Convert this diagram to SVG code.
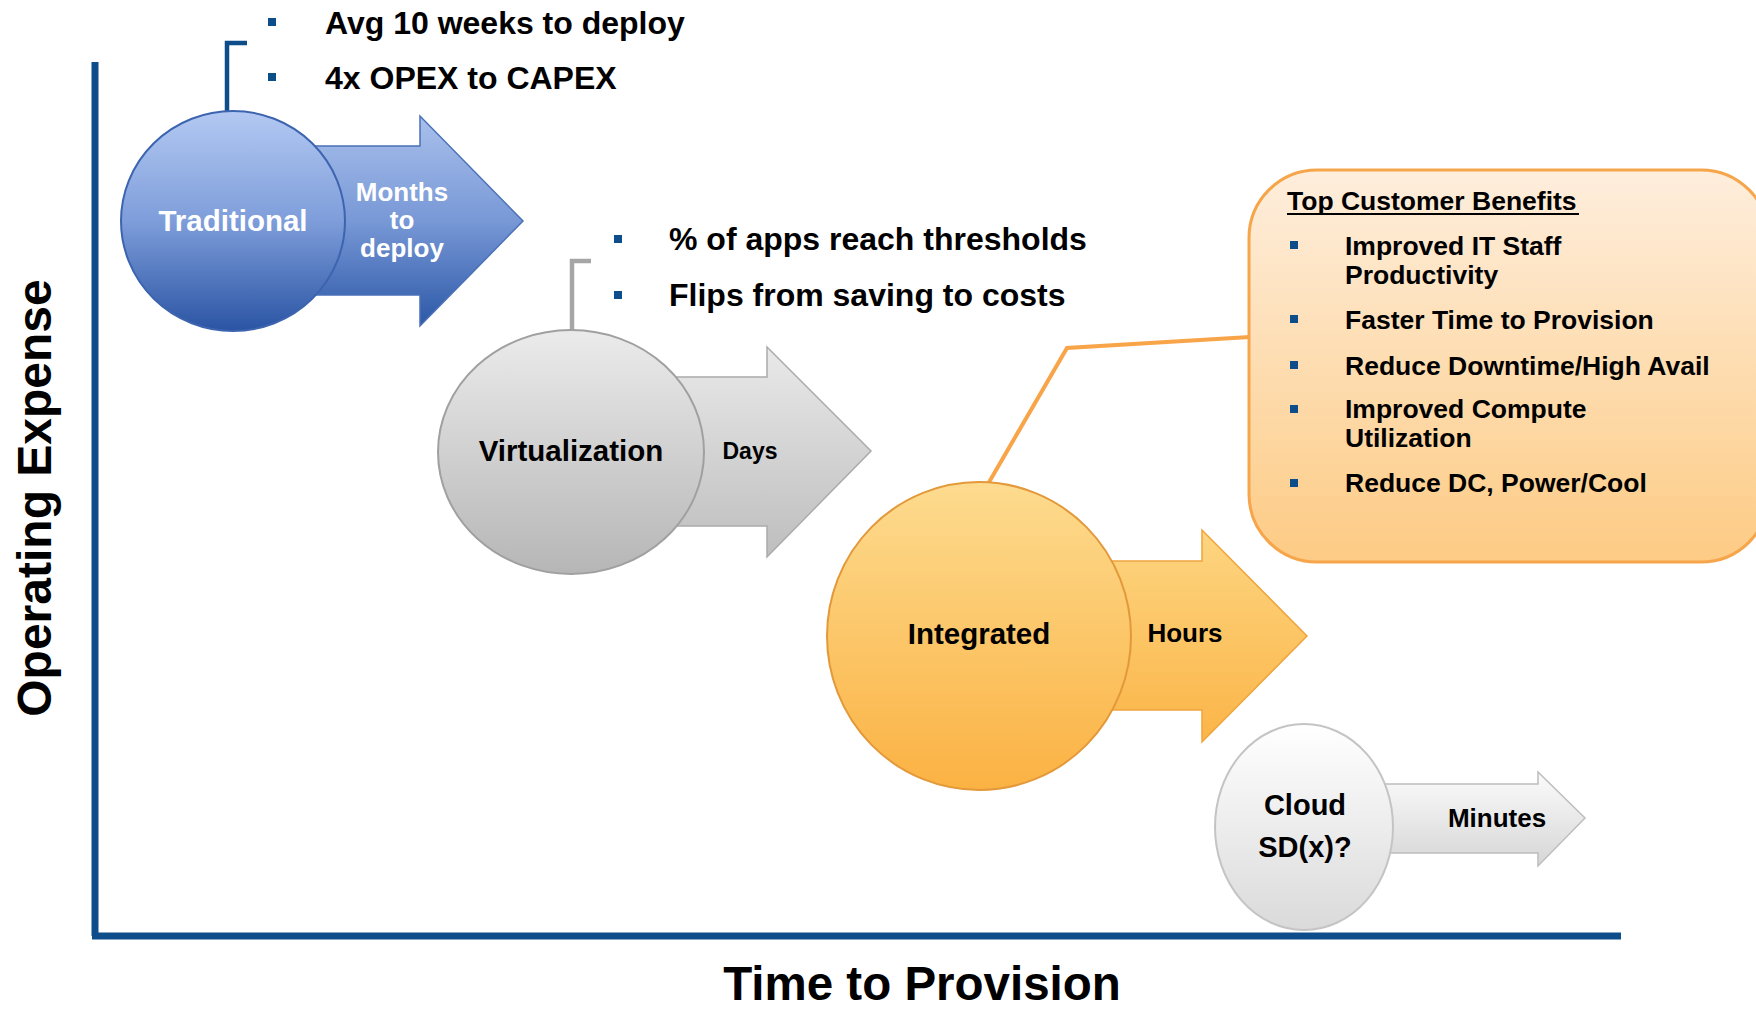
<svg xmlns="http://www.w3.org/2000/svg" width="1756" height="1010" viewBox="0 0 1756 1010">
  <style>
    text { font-family: "Liberation Sans", Arial, Helvetica, sans-serif; font-weight: bold; fill: #000; }
    .bullet-text { font-size: 32px; }
    .box-text { font-size: 26.5px; }
    .label { text-anchor: middle; }
    .light { fill: #FFFFFF; }
    .bullet { fill: #0D4E8A; }
    .axis { stroke: #0D4E8A; stroke-width: 7; fill: none; }
  </style>
  <defs>
    <linearGradient id="gBlueCircle" x1="0" y1="0" x2="0" y2="1">
      <stop offset="0" stop-color="#B3C9F2"/>
      <stop offset="0.5" stop-color="#7E9DDA"/>
      <stop offset="1" stop-color="#2A54A3"/>
    </linearGradient>
    <linearGradient id="gBlueArrow" x1="0" y1="0" x2="0" y2="1">
      <stop offset="0" stop-color="#A9C0EC"/>
      <stop offset="0.5" stop-color="#7898D6"/>
      <stop offset="1" stop-color="#2C58A7"/>
    </linearGradient>
    <linearGradient id="gGrayCircle" x1="0" y1="0" x2="0" y2="1">
      <stop offset="0" stop-color="#EBEBEB"/>
      <stop offset="1" stop-color="#B6B6B6"/>
    </linearGradient>
    <linearGradient id="gGrayArrow" x1="0" y1="0" x2="0" y2="1">
      <stop offset="0" stop-color="#E9E9E9"/>
      <stop offset="1" stop-color="#BEBEBE"/>
    </linearGradient>
    <linearGradient id="gOrangeCircle" x1="0" y1="0" x2="0" y2="1">
      <stop offset="0" stop-color="#FDDB8F"/>
      <stop offset="1" stop-color="#FBB243"/>
    </linearGradient>
    <linearGradient id="gOrangeArrow" x1="0" y1="0" x2="0" y2="1">
      <stop offset="0" stop-color="#FDD581"/>
      <stop offset="1" stop-color="#FBB548"/>
    </linearGradient>
    <linearGradient id="gWhiteCircle" x1="0" y1="0" x2="0" y2="1">
      <stop offset="0" stop-color="#FFFFFF"/>
      <stop offset="1" stop-color="#DADADA"/>
    </linearGradient>
    <linearGradient id="gWhiteArrow" x1="0" y1="0" x2="0" y2="1">
      <stop offset="0" stop-color="#FBFBFB"/>
      <stop offset="1" stop-color="#D6D6D6"/>
    </linearGradient>
    <linearGradient id="gBox" x1="0" y1="0" x2="0" y2="1">
      <stop offset="0" stop-color="#FEEEDD"/>
      <stop offset="1" stop-color="#FDCB84"/>
    </linearGradient>
  </defs>

  <!-- chart axes -->
  <g id="axes">
    <line class="axis" x1="95" y1="62" x2="95" y2="936"/>
    <line class="axis" x1="92" y1="936" x2="1621" y2="936"/>
    <text x="34" y="498" font-size="48" class="label" transform="rotate(-90 34 498) translate(0 17)">Operating Expense</text>
    <text x="922" y="1000" font-size="47.5" class="label">Time to Provision</text>
  </g>

  <!-- connectors: brackets and callout leader -->
  <g id="connectors" fill="none">
    <polyline points="227,114 227,43 247,43" stroke="#0D4E8A" stroke-width="4.5"/>
    <polyline points="572,332 572,261 591,261" stroke="#A6A6A6" stroke-width="4.5"/>
    <polyline points="988,484 1067,348 1250,337" stroke="#F8A54A" stroke-width="4"/>
  </g>

  <!-- notes for the traditional stage -->
  <g id="notes-traditional">
    <rect class="bullet" x="268" y="18" width="8" height="8"/>
    <text class="bullet-text" x="325" y="33.5">Avg 10 weeks to deploy</text>
    <rect class="bullet" x="268" y="73" width="8" height="8"/>
    <text class="bullet-text" x="325" y="88.5">4x OPEX to CAPEX</text>
  </g>

  <!-- notes for the virtualization stage -->
  <g id="notes-virtualization">
    <rect class="bullet" x="614" y="235" width="8" height="8"/>
    <text class="bullet-text" x="669" y="249.5">% of apps reach thresholds</text>
    <rect class="bullet" x="614" y="291" width="8" height="8"/>
    <text class="bullet-text" x="669" y="305.5">Flips from saving to costs</text>
  </g>

  <!-- stage 1: traditional -->
  <g id="traditional">
    <polygon points="300,146 420,146 420,116 523,221 420,326 420,295 300,295" fill="url(#gBlueArrow)" stroke="#4A70B8" stroke-width="1.5"/>
    <ellipse cx="233" cy="221" rx="112" ry="110" fill="url(#gBlueCircle)" stroke="#3D64AE" stroke-width="2"/>
    <text class="label light" x="233" y="231" font-size="29.5">Traditional</text>
    <text class="label light" x="402" y="201" font-size="26">Months</text>
    <text class="label light" x="402" y="229" font-size="26">to</text>
    <text class="label light" x="402" y="257" font-size="26">deploy</text>
  </g>

  <!-- stage 2: virtualization -->
  <g id="virtualization">
    <polygon points="650,377 767,377 767,347 871,451 767,557 767,526 650,526" fill="url(#gGrayArrow)" stroke="#ABABAB" stroke-width="1.5"/>
    <ellipse cx="571" cy="452" rx="133" ry="122" fill="url(#gGrayCircle)" stroke="#A0A0A0" stroke-width="2"/>
    <text class="label" x="571" y="461" font-size="29.5">Virtualization</text>
    <text class="label" x="750" y="459" font-size="23">Days</text>
  </g>

  <!-- stage 3: integrated -->
  <g id="integrated">
    <polygon points="1080,561 1202,561 1202,530 1307,636 1202,742 1202,710 1080,710" fill="url(#gOrangeArrow)" stroke="#EFA43C" stroke-width="1.5"/>
    <ellipse cx="979" cy="636" rx="152" ry="154" fill="url(#gOrangeCircle)" stroke="#E3993A" stroke-width="2"/>
    <text class="label" x="979" y="644" font-size="29.5">Integrated</text>
    <text class="label" x="1185" y="642" font-size="26">Hours</text>
  </g>

  <!-- stage 4: cloud -->
  <g id="cloud">
    <polygon points="1360,784 1538,784 1538,772 1585,818 1538,866 1538,853 1360,853" fill="url(#gWhiteArrow)" stroke="#BDBDBD" stroke-width="1.5"/>
    <ellipse cx="1304" cy="827" rx="89" ry="103" fill="url(#gWhiteCircle)" stroke="#C4C4C4" stroke-width="2"/>
    <text class="label" x="1305" y="815" font-size="29">Cloud</text>
    <text class="label" x="1305" y="857" font-size="29">SD(x)?</text>
    <text class="label" x="1497" y="827" font-size="26">Minutes</text>
  </g>

  <!-- benefits callout -->
  <g id="benefits">
    <rect x="1249" y="170" width="520" height="392" rx="68" ry="68" fill="url(#gBox)" stroke="#F6A54A" stroke-width="3"/>
    <text class="box-text" x="1287" y="210">Top Customer Benefits</text>
    <line x1="1287" y1="214" x2="1579" y2="214" stroke="#000" stroke-width="2"/>
    <rect class="bullet" x="1290" y="241" width="8" height="8"/>
    <text class="box-text" x="1345" y="254.8">Improved IT Staff</text>
    <text class="box-text" x="1345" y="283.9">Productivity</text>
    <rect class="bullet" x="1290" y="315" width="8" height="8"/>
    <text class="box-text" x="1345" y="328.7">Faster Time to Provision</text>
    <rect class="bullet" x="1290" y="361" width="8" height="8"/>
    <text class="box-text" x="1345" y="374.6">Reduce Downtime/High Avail</text>
    <rect class="bullet" x="1290" y="405" width="8" height="8"/>
    <text class="box-text" x="1345" y="418.3">Improved Compute</text>
    <text class="box-text" x="1345" y="447.4">Utilization</text>
    <rect class="bullet" x="1290" y="479" width="8" height="8"/>
    <text class="box-text" x="1345" y="492.2">Reduce DC, Power/Cool</text>
  </g>
</svg>
